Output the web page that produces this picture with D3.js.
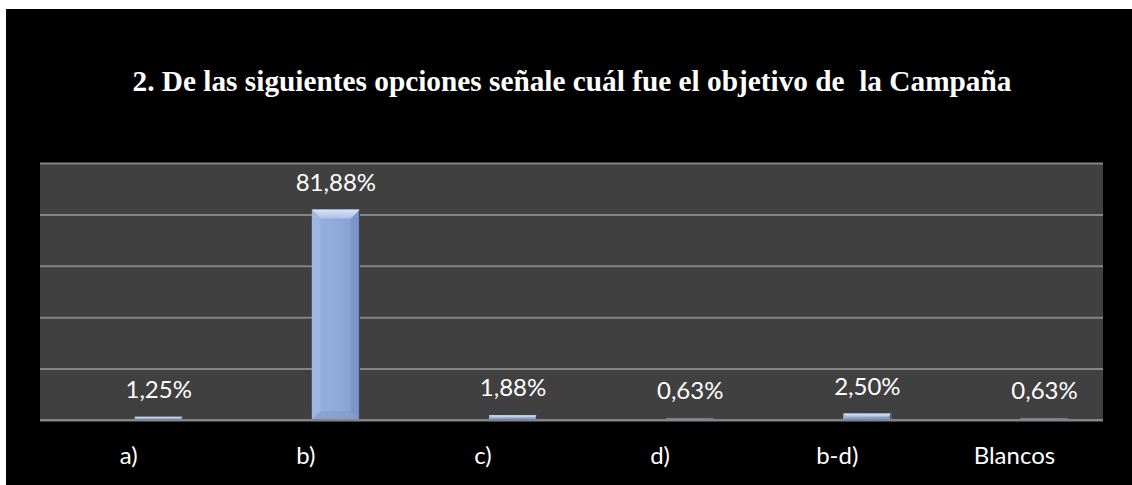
<!DOCTYPE html>
<html>
<head>
<meta charset="utf-8">
<script src="https://cdn.jsdelivr.net/npm/d3@7/dist/d3.min.js"></script>
<style>
  html, body { margin: 0; padding: 0; background: #ffffff; }
  svg { display: block; }
</style>
</head>
<body>
<script>
// Survey question 2: share of answers per option
const categories = ["a)", "b)", "c)", "d)", "b-d)", "Blancos"];
const percentages = [1.25, 81.88, 1.88, 0.63, 2.50, 0.63];
const valueLabels = ["1,25%", "81,88%", "1,88%", "0,63%", "2,50%", "0,63%"];
const yTicks = [0, 20, 40, 60, 80, 100];
const title = "2. De las siguientes opciones señale cuál fue el objetivo de  la Campaña";

const W = 1132, H = 485;
const frame = { x: 6, y: 9 };
const plot = { left: 40, right: 1103, top: 163, bottom: 420 };

const svg = d3.select("body").append("svg")
  .attr("width", W).attr("height", H);

const defs = svg.append("defs");

// Bevelled bar shading
const face = defs.append("linearGradient").attr("id", "barFace")
  .attr("x1", 0).attr("x2", 1).attr("y1", 0).attr("y2", 0);
face.append("stop").attr("offset", "0%").attr("stop-color", "#96afdc");
face.append("stop").attr("offset", "50%").attr("stop-color", "#90aadb");
face.append("stop").attr("offset", "100%").attr("stop-color", "#849dcd");

const topBevel = defs.append("linearGradient").attr("id", "barTop")
  .attr("x1", 0).attr("x2", 0).attr("y1", 0).attr("y2", 1);
topBevel.append("stop").attr("offset", "0%").attr("stop-color", "#d6e4fa");
topBevel.append("stop").attr("offset", "100%").attr("stop-color", "#a9c0e8");

svg.append("rect")
  .attr("x", frame.x).attr("y", frame.y)
  .attr("width", W - frame.x).attr("height", H - frame.y)
  .attr("fill", "#000000");

// Title
svg.append("text")
  .attr("x", 572).attr("y", 91)
  .attr("text-anchor", "middle")
  .style("white-space", "pre")
  .attr("font-family", "'Liberation Serif', 'Times New Roman', serif")
  .attr("font-weight", "bold")
  .attr("font-size", 29.3)
  .attr("fill", "#ffffff")
  .text(title);

const x = d3.scaleBand().domain(categories)
  .range([plot.left, plot.right]).padding(0);
const y = d3.scaleLinear().domain([0, 100])
  .range([plot.bottom, plot.top]);

// Plot area
svg.append("rect")
  .attr("x", plot.left).attr("y", plot.top)
  .attr("width", plot.right - plot.left).attr("height", plot.bottom - plot.top)
  .attr("fill", "#404040");

// Gridlines
const grid = d3.axisLeft(y).tickValues(yTicks)
  .tickSize(-(plot.right - plot.left)).tickFormat("");
const gg = svg.append("g")
  .attr("transform", `translate(${plot.left},0)`)
  .call(grid);
gg.select(".domain").remove();
gg.selectAll(".tick line").attr("stroke", "#858585").attr("stroke-width", 2);

// Bars (drawn shifted right inside each category slot)
const barW = 48;
const shift = x.bandwidth() * 0.17;
const cx = d => x(d.cat) + x.bandwidth() / 2 + shift;
const data = categories.map((c, i) => ({ cat: c, v: percentages[i], label: valueLabels[i] }));

const bars = svg.append("g").selectAll("g.bar").data(data).join("g").attr("class", "bar");

bars.each(function (d) {
  const g = d3.select(this);
  const x0 = cx(d) - barW / 2, x1 = cx(d) + barW / 2;
  const yt = y(d.v), yb = y(0);
  const h = yb - yt;
  const b = Math.min(9, h / 2);
  g.append("rect").attr("x", x0).attr("y", yt).attr("width", barW).attr("height", h)
    .attr("fill", "url(#barFace)");
  if (h > 2) {
    // left bevel
    g.append("path")
      .attr("d", `M${x0},${yt} L${x0 + b},${yt + b} L${x0 + b},${yb - b} L${x0},${yb} Z`)
      .attr("fill", "#a3bae3").attr("opacity", 0.6);
    // right bevel
    g.append("path")
      .attr("d", `M${x1},${yt} L${x1 - b},${yt + b} L${x1 - b},${yb - b} L${x1},${yb} Z`)
      .attr("fill", "#7890c0").attr("opacity", 0.6);
    // bottom bevel
    g.append("path")
      .attr("d", `M${x0},${yb} L${x0 + b},${yb - b} L${x1 - b},${yb - b} L${x1},${yb} Z`)
      .attr("fill", "#7f98c8").attr("opacity", 0.5);
    // top bevel
    g.append("path")
      .attr("d", `M${x0},${yt} L${x1},${yt} L${x1 - b},${yt + b} L${x0 + b},${yt + b} Z`)
      .attr("fill", "url(#barTop)");
  }
  g.append("line").attr("x1", x1 - 0.5).attr("x2", x1 - 0.5).attr("y1", yt).attr("y2", yb)
    .attr("stroke", "#2c3c5c").attr("stroke-width", 1);
});

// Axis line
svg.append("line")
  .attr("x1", plot.left).attr("x2", plot.right)
  .attr("y1", plot.bottom).attr("y2", plot.bottom)
  .attr("stroke", "#858585").attr("stroke-width", 2);

// Value labels
svg.append("g").selectAll("text").data(data).join("text")
  .attr("x", d => cx(d))
  .attr("y", d => y(d.v) - 19)
  .attr("text-anchor", "middle")
  .attr("font-family", "Lato, 'Open Sans', sans-serif")
  .attr("font-size", 24)
  .attr("fill", "#ffffff")
  .text(d => d.label);

// Category labels
const xa = d3.axisBottom(x).tickSize(0).tickPadding(0);
const xg = svg.append("g").attr("transform", `translate(0,${plot.bottom})`).call(xa);
xg.select(".domain").remove();
xg.selectAll(".tick text")
  .attr("y", 44).attr("dy", 0)
  .attr("font-family", "Lato, 'Open Sans', sans-serif")
  .attr("font-size", 24)
  .attr("fill", "#ffffff");
</script>
</body>
</html>
